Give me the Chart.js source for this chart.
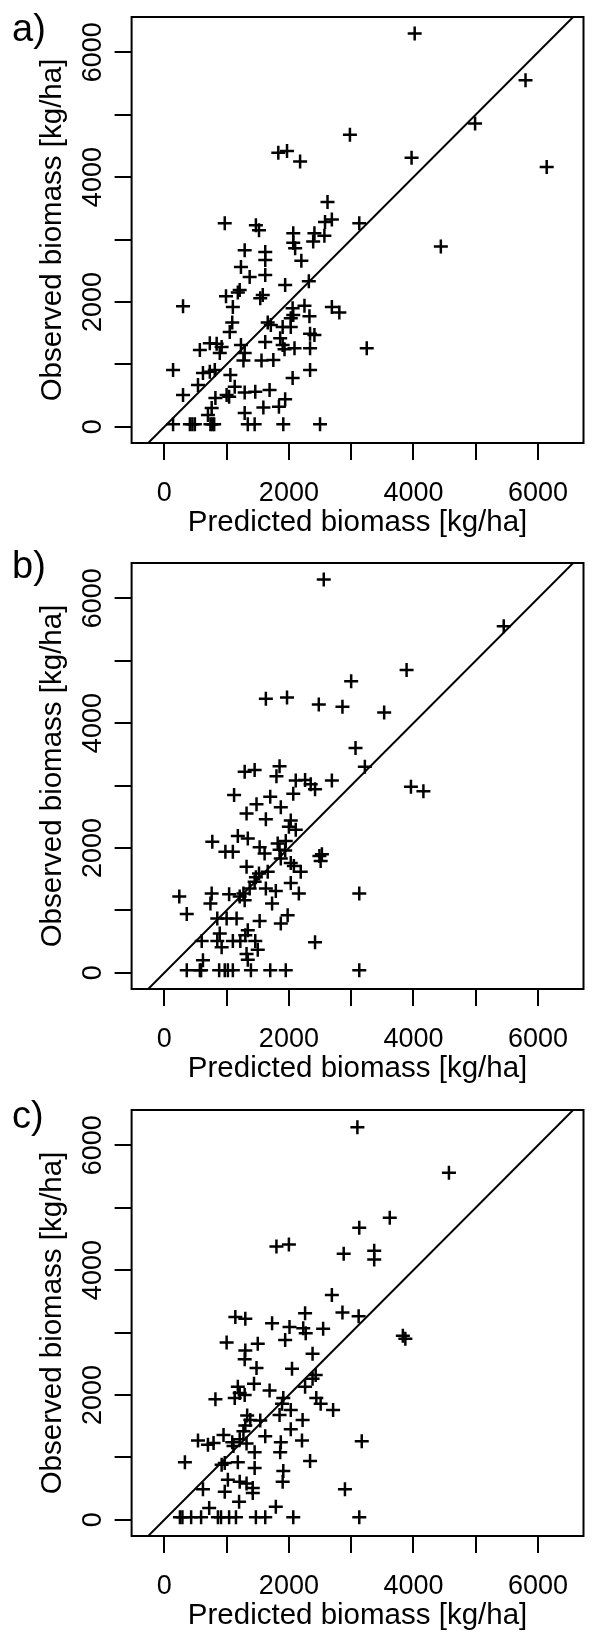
<!DOCTYPE html>
<html>
<head>
<meta charset="utf-8">
<script src="https://cdn.jsdelivr.net/npm/chart.js@4"></script>
<style>
  html, body { margin: 0; padding: 0; background: #fff; }
  body { width: 593px; height: 1632px; position: relative; overflow: hidden; }
  .panel { position: absolute; left: 0; width: 593px; height: 547px; }
</style>
</head>
<body>
<div class="panel" style="top:0px"><canvas id="panelA" width="593" height="547"></canvas></div>
<div class="panel" style="top:545.5px"><canvas id="panelB" width="593" height="547"></canvas></div>
<div class="panel" style="top:1093px"><canvas id="panelC" width="593" height="547"></canvas></div>
<script>
// axis setup shared by all three panels
const tickValues = [0, 1000, 2000, 3000, 4000, 5000, 6000];
const tickLabels = ['0', '', '2000', '', '4000', '', '6000'];
const xLimits = [-526, 6731];
const yLimits = [-260, 6565];

// a) predicted vs observed
const predA = [2620,2690,2580,970,1470,1520,3130,2070,2410,2570,
  2070,2390,2100,1290,1620,1620,2200,1230,1370,1620,
  1940,2320,1210,1180,990,1580,1540,300,1100,2060,
  2250,2690,2810,2070,2030,2330,1660,1090,1710,1900,
  2030,1050,1860,2340,2410,730,840,570,890,920,
  1230,1620,1900,1930,2090,2340,1290,1270,1560,1750,
  140,620,730,810,1060,2340,2060,540,1130,300,
  820,1000,1040,1290,1460,1690,1590,1840,1940,760,
  700,1290,
  140,410,450,490,740,770,800,1340,1450,1910,2500,
  4020,5800,4990,2980,3970,6140,1830,1970,2180,4440,3250];
const obsA = [3600,3320,3280,3260,3230,3150,3260,3100,3100,3060,
  2950,2970,2860,2830,2800,2670,2660,2560,2400,2430,
  2270,2330,2190,2150,2090,2110,2060,1930,1920,1900,
  1940,1920,1830,1790,1740,1770,1670,1670,1630,1600,
  1600,1520,1420,1490,1470,1340,1330,1230,1180,1280,
  1310,1360,1310,1240,1260,1260,1180,1060,1060,1070,
  910,860,880,910,830,910,780,670,640,510,
  460,510,480,550,560,590,310,320,440,300,
  190,220,
  40,40,40,40,40,40,40,40,40,40,40,
  6300,5550,4860,4680,4310,4160,4390,4420,4250,2890,1260];

// b)
const predB = [3220,1290,1450,1850,1800,2110,2260,2350,2420,2690,
  2070,1120,1480,1700,1870,1320,1630,2030,2000,2110,
  770,1180,1340,980,1100,1530,1610,1820,1850,1950,
  1940,1870,2030,2080,2190,2490,2530,2510,1320,1520,
  1470,1660,1450,2030,240,360,760,740,1040,1210,
  1290,1270,1370,1630,1790,1730,2160,3130,850,1000,
  1160,1530,1870,1980,600,850,890,1100,1220,1300,
  1340,1460,1500,1320,1340,920,620,2420,
  360,570,590,880,970,1020,1100,1390,1700,1950,3130,
  2560,5450,3890,3000,1630,1970,2480,2860,3530,3070,3960,4160];
const obsB = [3300,3220,3250,3310,3150,3080,3090,3020,2940,3080,
  2870,2850,2700,2820,2650,2550,2460,2440,2340,2290,
  2100,2190,2150,1940,1940,2010,1910,2070,1970,2110,
  1960,1830,1760,1710,1620,1870,1900,1790,1700,1590,
  1530,1620,1460,1440,1220,940,1270,1110,1260,1220,
  1160,1270,1350,1350,1310,1110,1270,1270,870,870,
  870,830,790,920,510,510,630,510,510,600,
  680,510,370,300,210,410,200,490,
  40,40,40,40,40,40,40,40,40,40,40,
  6300,5550,4850,4670,4390,4410,4300,4260,4170,3600,2980,2910];

// c)
const predC = [2690,2860,3120,1140,1300,1730,2010,2260,2230,2270,
  2550,1940,1000,1500,1300,1290,2380,1480,2050,2430,
  2380,1180,1440,1210,1290,1690,2260,820,1130,1910,
  1890,2030,2440,2510,2710,2220,2030,1850,1330,1380,
  1540,1300,1270,1620,1870,2210,3170,540,700,790,
  950,1090,1110,1210,1320,1450,1860,330,920,970,
  1180,1450,2340,1910,1900,620,970,1020,1210,1320,
  1420,1420,1200,720,1790,2900,
  250,290,430,590,860,910,1040,1150,1470,1620,2070,3130,
  3100,4570,3620,3130,1800,2000,2880,3370,3370,3830,3870];
const obsC = [3600,3320,3260,3250,3220,3150,3090,3310,3070,2990,
  3060,2880,2840,2820,2710,2570,2660,2430,2420,2320,
  2260,2130,2180,2030,2000,2070,2130,1930,1950,1950,
  1860,1760,1950,1860,1760,1600,1450,1680,1670,1600,
  1590,1510,1420,1340,1240,1270,1260,1270,1200,1230,
  1360,1240,1180,1290,1220,1080,1080,920,880,910,
  920,830,940,780,610,490,450,640,610,580,
  510,430,290,190,210,490,
  40,40,40,40,40,40,40,40,40,40,40,40,
  6290,5560,4840,4680,4380,4410,4260,4310,4170,2950,2900];

const FONT = '"Liberation Sans", Arial, Helvetica, sans-serif';

// plot frame + panel letter
const panelFrame = {
  id: 'panelFrame',
  afterDraw(chart, args, opts) {
    const { ctx, chartArea: a } = chart;
    ctx.save();
    ctx.strokeStyle = '#000';
    ctx.lineWidth = 2;
    ctx.strokeRect(a.left, a.top, a.right - a.left, a.bottom - a.top);
    ctx.fillStyle = '#000';
    ctx.font = '38px ' + FONT;
    ctx.textBaseline = 'alphabetic';
    ctx.fillText(opts.letter, opts.x, opts.y);
    ctx.restore();
  }
};

function axisGrid() {
  return { drawOnChartArea: false, drawTicks: true, tickLength: 17, color: '#000', lineWidth: 2 };
}

function makePanel(id, pred, obs, letter, letterY) {
  const points = pred.map((x, i) => ({ x: x, y: obs[i] }));
  return new Chart(document.getElementById(id), {
    type: 'scatter',
    data: {
      datasets: [
        {
          data: points,
          pointStyle: 'cross',
          pointRadius: 7,
          pointHoverRadius: 7,
          borderWidth: 2.5,
          borderColor: '#000',
          backgroundColor: '#000'
        },
        {
          // 1:1 line
          type: 'line',
          data: [{ x: xLimits[0], y: xLimits[0] }, { x: xLimits[1], y: xLimits[1] }],
          showLine: true,
          pointRadius: 0,
          borderWidth: 2,
          borderColor: '#000'
        }
      ]
    },
    options: {
      responsive: false,
      animation: false,
      events: [],
      layout: { padding: { top: 17, right: 7.5, left: 0, bottom: 0 } },
      plugins: {
        legend: { display: false },
        tooltip: { enabled: false },
        panelFrame: { letter: letter, x: 12, y: letterY }
      },
      scales: {
        x: {
          type: 'linear',
          min: xLimits[0],
          max: xLimits[1],
          afterBuildTicks: s => { s.ticks = tickValues.map(v => ({ value: v })); },
          afterFit: s => { s.height = 104; s.paddingLeft = 0; s.paddingRight = 0; },
          grid: axisGrid(),
          border: { display: false },
          ticks: {
            callback: v => tickLabels[tickValues.indexOf(v)],
            autoSkip: false,
            maxRotation: 0,
            color: '#000',
            padding: 17,
            font: { family: FONT, size: 27 }
          },
          title: {
            display: true,
            text: 'Predicted biomass [kg/ha]',
            color: '#000',
            font: { family: FONT, size: 29.5 },
            padding: { top: 0, bottom: 6 }
          }
        },
        y: {
          type: 'linear',
          min: yLimits[0],
          max: yLimits[1],
          afterBuildTicks: s => { s.ticks = tickValues.map(v => ({ value: v })); },
          afterFit: s => { s.width = 131.6; s.paddingTop = 0; s.paddingBottom = 0; },
          grid: axisGrid(),
          border: { display: false },
          ticks: {
            callback: v => tickLabels[tickValues.indexOf(v)],
            autoSkip: false,
            minRotation: 90,
            maxRotation: 90,
            crossAlign: 'center',
            color: '#000',
            padding: -9,
            font: { family: FONT, size: 27 }
          },
          title: {
            display: true,
            text: 'Observed biomass [kg/ha]',
            color: '#000',
            font: { family: FONT, size: 29.5 },
            padding: { top: 35, bottom: 0 }
          }
        }
      }
    },
    plugins: [panelFrame]
  });
}

makePanel('panelA', predA, obsA, 'a)', 41);
makePanel('panelB', predB, obsB, 'b)', 32);
makePanel('panelC', predC, obsC, 'c)', 35);
</script>
</body>
</html>
